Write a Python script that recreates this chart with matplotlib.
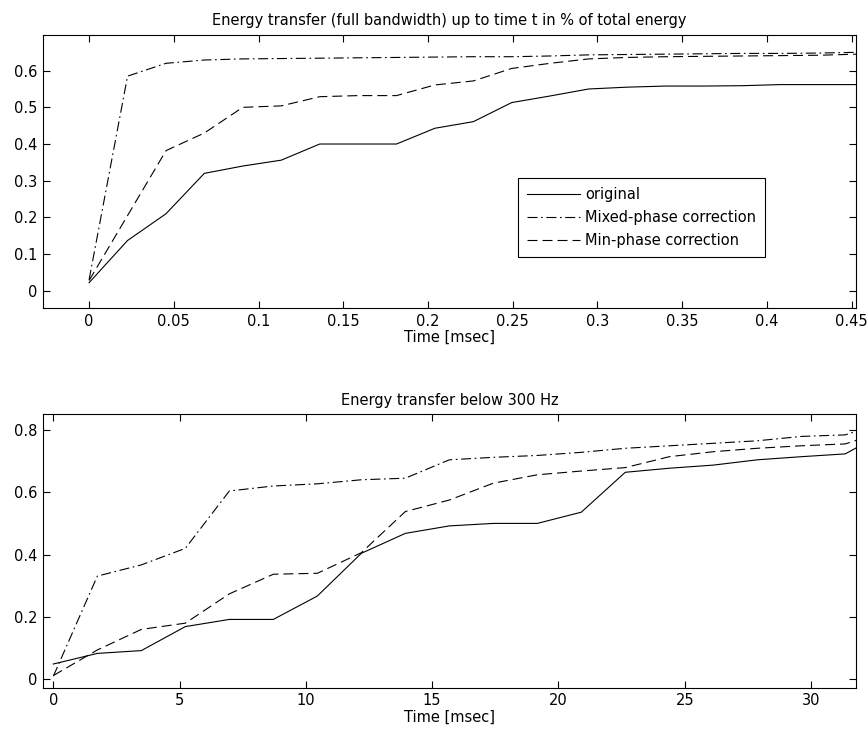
import matplotlib
matplotlib.use("Agg")
import matplotlib.pyplot as plt

# ---------------- data: full bandwidth (top) ----------------
t_full = [0.0, 0.0227, 0.0454, 0.0680, 0.0907, 0.1134, 0.1361, 0.1587, 0.1814,
          0.2041, 0.2268, 0.2494, 0.2721, 0.2948, 0.3175, 0.3401, 0.3628, 0.3855,
          0.4082, 0.4308, 0.4535]
orig_full = [0.022, 0.137, 0.210, 0.320, 0.340, 0.356, 0.400, 0.400, 0.400,
             0.443, 0.461, 0.513, 0.531, 0.550, 0.555, 0.558, 0.558, 0.559,
             0.562, 0.562, 0.562]
mixed_full = [0.030, 0.585, 0.620, 0.629, 0.632, 0.633, 0.634, 0.635, 0.636,
              0.637, 0.638, 0.638, 0.640, 0.643, 0.644, 0.645, 0.646, 0.647,
              0.647, 0.648, 0.650]
min_full = [0.028, 0.205, 0.382, 0.430, 0.500, 0.504, 0.529, 0.532, 0.532,
            0.561, 0.572, 0.606, 0.620, 0.632, 0.636, 0.638, 0.639, 0.640,
            0.641, 0.642, 0.645]

# ---------------- data: below 300 Hz (bottom) ----------------
t_low = [0.0, 1.742, 3.484, 5.226, 6.968, 8.710, 10.452, 12.194, 13.936, 15.678,
         17.420, 19.162, 20.904, 22.646, 24.388, 26.130, 27.872, 29.614, 31.356,
         33.098]
orig_low = [0.049, 0.083, 0.092, 0.169, 0.192, 0.192, 0.267, 0.404, 0.468, 0.492,
            0.500, 0.500, 0.536, 0.664, 0.677, 0.687, 0.704, 0.714, 0.723, 0.800]
mixed_low = [0.010, 0.331, 0.367, 0.420, 0.604, 0.620, 0.627, 0.640, 0.645, 0.704,
             0.712, 0.718, 0.728, 0.741, 0.749, 0.757, 0.765, 0.779, 0.784, 0.830]
min_low = [0.012, 0.094, 0.160, 0.180, 0.274, 0.337, 0.340, 0.406, 0.538, 0.575,
           0.629, 0.656, 0.668, 0.679, 0.714, 0.730, 0.741, 0.749, 0.755, 0.800]

labels = ["original", "Mixed-phase correction", "Min-phase correction"]
title_top = "Energy transfer (full bandwidth) up to time t in % of total energy"
title_bot = "Energy transfer below 300 Hz"
xlabel = "Time [msec]"

xticks_top = [0, 0.05, 0.1, 0.15, 0.2, 0.25, 0.3, 0.35, 0.4, 0.45]
xticklabels_top = ["0", "0.05", "0.1", "0.15", "0.2", "0.25", "0.3", "0.35", "0.4", "0.45"]
yticks_top = [0, 0.1, 0.2, 0.3, 0.4, 0.5, 0.6]
yticklabels_top = ["0", "0.1", "0.2", "0.3", "0.4", "0.5", "0.6"]
xticks_bot = [0, 5, 10, 15, 20, 25, 30]
yticks_bot = [0, 0.2, 0.4, 0.6, 0.8]
yticklabels_bot = ["0", "0.2", "0.4", "0.6", "0.8"]

FS = 10.5
plt.rcParams["font.family"] = ["DejaVu Sans"]
plt.rcParams["font.size"] = FS
plt.rcParams["lines.scale_dashes"] = False

W, H = 867, 735
fig = plt.figure(figsize=(W / 100, H / 100), dpi=100)
fig.patch.set_facecolor("white")

def ax_rect(l, t, r, b):
    return [l / W, 1 - b / H, (r - l) / W, (b - t) / H]

ax1 = fig.add_axes(ax_rect(43, 34.7, 855.7, 308))
ax2 = fig.add_axes(ax_rect(43, 414.3, 855.7, 687.7))

dash = (7.2, 3.6)
dashdot = (7.2, 2.6, 1.2, 2.6)
lw = 0.8

def draw(ax, t, o, m, n):
    l1, = ax.plot(t, o, color="black", lw=lw, linestyle="-")
    l2, = ax.plot(t, m, color="black", lw=lw)
    l2.set_dashes(dashdot)
    l3, = ax.plot(t, n, color="black", lw=lw)
    l3.set_dashes(dash)
    return l1, l2, l3

def style(ax):
    ax.tick_params(direction="in", length=5, width=0.8, top=True, right=True,
                   labelsize=FS, pad=4, colors="black")
    for s in ax.spines.values():
        s.set_linewidth(0.8)
        s.set_color("black")

h = draw(ax1, t_full, orig_full, mixed_full, min_full)
ax1.set_xlim(-0.0272, 0.4524)
ax1.set_ylim(-0.047, 0.698)
ax1.set_xticks(xticks_top)
ax1.set_xticklabels(xticklabels_top)
ax1.set_yticks(yticks_top)
ax1.set_yticklabels(yticklabels_top)
ax1.set_title(title_top, fontsize=FS, pad=7)
ax1.set_xlabel(xlabel, labelpad=1)
style(ax1)
leg = ax1.legend(h, labels, loc="upper right", bbox_to_anchor=(0.8888, 0.4746),
                 borderaxespad=0, fancybox=False, framealpha=1, edgecolor="black",
                 handlelength=3.6, handletextpad=0.39, borderpad=0.62,
                 labelspacing=0.55, fontsize=FS)
leg.get_frame().set_linewidth(0.8)

draw(ax2, t_low, orig_low, mixed_low, min_low)
ax2.set_xlim(-0.41, 31.77)
ax2.set_ylim(-0.027, 0.85)
ax2.set_xticks(xticks_bot)
ax2.set_yticks(yticks_bot)
ax2.set_yticklabels(yticklabels_bot)
ax2.set_title(title_bot, fontsize=FS, pad=7)
ax2.set_xlabel(xlabel, labelpad=1)
style(ax2)

fig.savefig("out.png", dpi=100, facecolor="white")
